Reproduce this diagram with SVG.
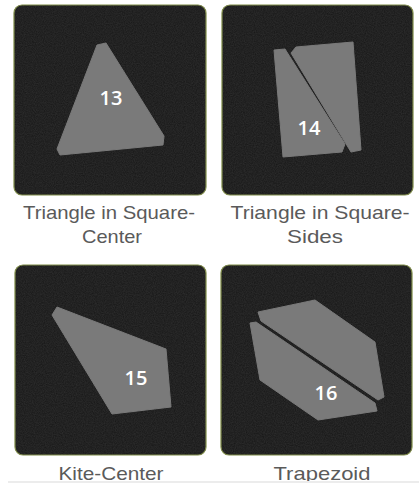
<svg xmlns="http://www.w3.org/2000/svg" width="419" height="483" viewBox="0 0 419 483">
  <style>
    .panel { fill: #161616; stroke: #7d8a45; stroke-width: 1.2; }
    .piece { fill: #7a7a7a; stroke: #7a7a7a; stroke-width: 1; stroke-linejoin: round; }
    .num { font-family: "Open Sans", "Noto Sans", sans-serif; font-weight: 600; font-size: 20px; fill: #ffffff; text-anchor: middle; }
    .cap { font-family: "Liberation Sans", Arial, sans-serif; font-size: 19px; fill: #5a5a5a; text-anchor: middle; }
  </style>
  <defs>
    <filter id="grain" x="0" y="0" width="100%" height="100%">
      <feTurbulence type="fractalNoise" baseFrequency="0.9" numOctaves="2" seed="3" result="n"/>
      <feColorMatrix in="n" type="matrix" values="0 0 0 0 0.35  0 0 0 0 0.35  0 0 0 0 0.35  0 0 0 0.18 0" result="g"/>
      <feComposite in="g" in2="SourceGraphic" operator="in"/>
    </filter>
  </defs>
  <rect width="419" height="483" fill="#ffffff"/>

  <g id="node-triangle-center">
    <rect class="panel" x="14" y="5" width="192" height="190" rx="8"/>
    <rect x="14" y="5" width="192" height="190" rx="8" fill="#000" filter="url(#grain)"/>
    <polygon class="piece" points="97,45 106,43 164,136 163,145 60,155 57,149"/>
    <text class="num" x="111" y="105">13</text>
    <text class="cap" x="109" y="219" textLength="172" lengthAdjust="spacingAndGlyphs">Triangle in Square-</text>
    <text class="cap" x="112" y="243" textLength="60" lengthAdjust="spacingAndGlyphs">Center</text>
  </g>

  <g id="node-triangle-sides">
    <rect class="panel" x="222" y="5" width="191" height="190" rx="8"/>
    <rect x="222" y="5" width="191" height="190" rx="8" fill="#000" filter="url(#grain)"/>
    <polygon class="piece" points="274,50 285,49 345,144 342,152 283,157"/>
    <polygon class="piece" points="291,53 296,47 353,42 361,150 351,152"/>
    <text class="num" x="309" y="135">14</text>
    <text class="cap" x="320" y="219" textLength="179" lengthAdjust="spacingAndGlyphs">Triangle in Square-</text>
    <text class="cap" x="315" y="243" textLength="56" lengthAdjust="spacingAndGlyphs">Sides</text>
  </g>

  <g id="node-kite-center">
    <rect class="panel" x="15" y="265" width="191" height="190" rx="8"/>
    <rect x="15" y="265" width="191" height="190" rx="8" fill="#000" filter="url(#grain)"/>
    <polygon class="piece" points="52,315 57,307 166,349 171,407 112,414"/>
    <text class="num" x="136" y="385">15</text>
    <text class="cap" x="111" y="480" textLength="105" lengthAdjust="spacingAndGlyphs">Kite-Center</text>
  </g>

  <g id="node-trapezoid">
    <rect class="panel" x="221" y="265" width="191" height="190" rx="8"/>
    <rect x="221" y="265" width="191" height="190" rx="8" fill="#000" filter="url(#grain)"/>
    <polygon class="piece" points="258,312 315,300 375,342 384,397 378,400 261,321"/>
    <polygon class="piece" points="250,323 256,322 375,403 377,411 318,420 260,380"/>
    <text class="num" x="326" y="400">16</text>
    <text class="cap" x="322" y="480" textLength="97" lengthAdjust="spacingAndGlyphs">Trapezoid</text>
  </g>

  <rect x="8" y="481" width="411" height="2" fill="#ececec"/>
</svg>
